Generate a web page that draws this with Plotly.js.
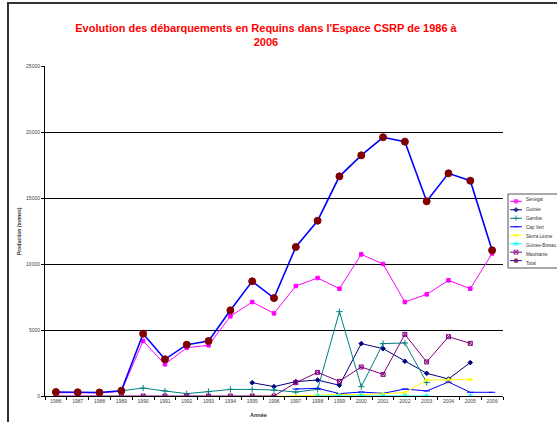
<!DOCTYPE html>
<html><head><meta charset="utf-8">
<script src="https://cdn.plot.ly/plotly-3.0.1.min.js"></script>
<style>
html,body{margin:0;padding:0;background:#fff;overflow:hidden;}
#frame{position:absolute;left:7px;top:2px;width:700px;height:600px;border-left:2px solid #333;border-top:2px solid #333;}
#chart{position:absolute;left:0;top:0;width:557px;height:422px;}
</style></head>
<body><div id="frame"></div><div id="chart"></div>
<script>
const years = [1986,1987,1988,1989,1990,1991,1992,1993,1994,1995,1996,1997,1998,1999,2000,2001,2002,2003,2004,2005,2006];
const senegal = [250,250,240,350,4170,2400,3660,3840,6040,7120,6260,8330,8940,8130,10730,10000,7120,7700,8760,8130,10800];
const guinee = [null,null,null,null,null,null,null,null,null,1010,710,1090,1210,810,3970,3590,2630,1720,1290,2530,null];
const gambie = [null,null,null,400,600,380,180,330,500,500,450,300,500,6390,710,3970,4020,1030,null,null,null];
const capVert = [null,null,null,null,null,null,null,null,null,null,null,530,580,180,300,200,530,380,1060,280,280];
const sierraLeone = [null,null,null,null,null,null,null,null,null,0,0,0,70,120,100,150,250,1210,1260,1260,null];
const guineeBissau = [null,null,null,null,null,null,null,null,null,null,null,null,0,0,50,0,0,0,null,0,null];
const mauritanie = [0,0,0,0,0,0,0,0,0,0,0,1010,1790,1110,2200,1640,4670,2580,4490,3990,null];
const total = [300,280,270,400,4720,2780,3890,4170,6490,8690,7420,11290,13280,16640,18230,19600,19270,14750,16870,16310,11040];
const seriesNames = ["Sénégal","Guinée","Gambie","Cap Vert","Sierra Léone","Guinée-Bissau","Mauritanie","Total"];
const yTicks = [0,5000,10000,15000,20000,25000];

const FONT = "Liberation Sans, Arial, sans-serif";
const styles = [
  {line:"#FF00FF", mk:"#FF00FF", sym:"square", size:3.5, lw:1},
  {line:"#000080", mk:"#000080", sym:"diamond", size:3.5, lw:1},
  {line:"#008080", mk:"#008080", sym:"cross-thin-open", size:4.5, lw:1},
  {line:"#0000FF", mk:"#0000FF", sym:"line-ew-open", size:4.5, lw:1},
  {line:"#FFFF00", mk:"#FFFF00", sym:"triangle-up", size:3.5, lw:1},
  {line:"#00FFFF", mk:"#00FFFF", sym:"asterisk-open", size:4.5, lw:1},
  {line:"#800080", mk:"#800080", sym:"square-x-open", size:4, lw:1},
  {line:"#0000FF", mk:"#800000", sym:"circle", size:7, lw:1.6}
];
const data = [senegal,guinee,gambie,capVert,sierraLeone,guineeBissau,mauritanie,total];

const traces = data.map((d,i)=>({
  type:"scatter", mode:"lines+markers", x:years, y:d, name:seriesNames[i],
  showlegend:false, connectgaps:false,
  line:{color:styles[i].line, width:styles[i].lw},
  marker:{color:styles[i].mk, symbol:styles[i].sym, size:styles[i].size,
          line:{color:styles[i].mk, width:1}},
  xaxis:"x", yaxis:"y"
}));

// legend samples on a helper axis
seriesNames.forEach((n,i)=>{
  traces.push({type:"scatter", mode:"lines+markers", x:[0,0.5,1], y:[i+1,i+1,i+1],
    showlegend:false, hoverinfo:"skip", xaxis:"x2", yaxis:"y2",
    line:{color:styles[i].line, width:1},
    marker:{color:styles[i].mk, symbol:styles[i].sym, size:[0,Math.min(styles[i].size,4),0],
            line:{color:styles[i].mk, width:1}}});
});

const plotW = 512;
const px = v => (v-45)/plotW;
const py = v => (396-v)/330;

const annotations = seriesNames.map((n,i)=>({
  xref:"paper", yref:"paper", x:px(524), y:py(200+i*9), text:n, showarrow:false,
  xanchor:"left", yanchor:"middle", font:{family:FONT, size:4.6, color:"#333"}
}));
annotations.push({xref:"paper", yref:"paper", x:0, xshift:-26, y:0.5, text:"Production (tonnes)",
  textangle:-90, showarrow:false, xanchor:"center", yanchor:"middle",
  font:{family:FONT, size:5, color:"#333", weight:"bold"}});
annotations.push({xref:"paper", yref:"paper", x:px(258), y:py(415), text:"Année", showarrow:false,
  xanchor:"center", yanchor:"middle", font:{family:FONT, size:5.5, color:"#333", weight:"bold"}});

const shapes = [{type:"rect", xref:"paper", yref:"paper", x0:px(508), x1:px(600), y0:py(194), y1:py(268),
  line:{color:"#555", width:1}, fillcolor:"rgba(0,0,0,0)"}];

const layout = {
  width:557, height:422,
  margin:{l:45, r:0, t:66, b:26, pad:0},
  paper_bgcolor:"rgba(0,0,0,0)", plot_bgcolor:"rgba(0,0,0,0)",
  title:{text:"Evolution des débarquements en Requins dans l'Espace CSRP de 1986 à<br>2006",
    font:{family:FONT, size:11, color:"#FF0000", weight:"bold"},
    x:266/557, xref:"container", xanchor:"center", y:1-32/422, yref:"container", yanchor:"middle"},
  xaxis:{domain:[0, 458/plotW], range:[1985.5,2006.5], tickmode:"array", tickvals:years,
    ticktext:years.map(String), ticks:"", showgrid:false, zeroline:false,
    showline:true, linecolor:"#000", linewidth:1,
    tickfont:{family:FONT, size:5, color:"#444"},
    minor:{tickmode:"linear", tick0:1985.5, dtick:1, ticks:"outside", ticklen:3, tickcolor:"#000", showgrid:false}},
  yaxis:{range:[0,25000], tickvals:yTicks, ticktext:yTicks.map(String), ticks:"outside", ticklen:3,
    tickcolor:"#000", showgrid:true, gridcolor:"#000", gridwidth:1, zeroline:false,
    showline:true, linecolor:"#000", linewidth:1,
    tickfont:{family:FONT, size:5, color:"#444"}},
  xaxis2:{domain:[px(510), px(522)], range:[0,1], visible:false, anchor:"y2", fixedrange:true},
  yaxis2:{domain:[py(270), py(192)], range:[9.1,-0.1], visible:false, anchor:"x2", fixedrange:true},
  annotations:annotations, shapes:shapes, showlegend:false
};

Plotly.newPlot("chart", traces, layout, {staticPlot:true, displayModeBar:false});
</script></body></html>
